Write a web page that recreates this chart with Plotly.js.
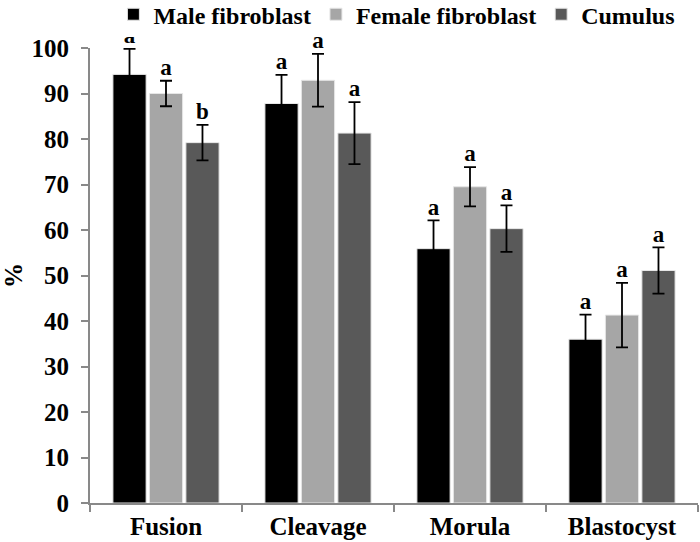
<!DOCTYPE html>
<html>
<head>
<meta charset="utf-8">
<script src="https://cdn.plot.ly/plotly-3.0.1.min.js"></script>
<style>html,body{margin:0;padding:0;background:#fff;}#chart{width:700px;height:542px;}</style>
</head>
<body>
<div id="chart"></div>
<script>
const categories = ["Fusion", "Cleavage", "Morula", "Blastocyst"];
const seriesNames = ["Male fibroblast", "Female fibroblast", "Cumulus"];
const maleValues = [94.2, 87.8, 55.9, 36.0];
const maleErrors = [5.6, 6.3, 6.2, 5.4];
const maleLetters = ["a", "a", "a", "a"];
const femaleValues = [90.0, 92.9, 69.5, 41.3];
const femaleErrors = [2.8, 5.8, 4.3, 7.1];
const femaleLetters = ["a", "a", "a", "a"];
const cumulusValues = [79.2, 81.3, 60.3, 51.1];
const cumulusErrors = [3.9, 6.8, 5.1, 5.1];
const cumulusLetters = ["b", "a", "a", "a"];
const yTicks = [0, 10, 20, 30, 40, 50, 60, 70, 80, 90, 100];

const colors = ["#000000", "#a6a6a6", "#595959"];
const valueSets = [maleValues, femaleValues, cumulusValues];
const errorSets = [maleErrors, femaleErrors, cumulusErrors];
const letterSets = [maleLetters, femaleLetters, cumulusLetters];
const fontFam = "Liberation Serif, Times New Roman, serif";

const traces = [];
for (let i = 0; i < 3; i++) {
  traces.push({
    type: "bar",
    name: seriesNames[i],
    x: categories,
    y: valueSets[i],
    offsetgroup: String(i),
    marker: {color: colors[i], line: {color: "#e6e6e6", width: 1}},
    error_y: {type: "data", array: errorSets[i], visible: true, color: "#000", thickness: 1.8, width: 6},
    hoverinfo: "x+y"
  });
}
for (let i = 0; i < 3; i++) {
  traces.push({
    type: "scatter",
    mode: "text",
    x: categories,
    y: valueSets[i].map((v, k) => v + errorSets[i][k]),
    text: letterSets[i],
    textposition: "top center",
    textfont: {family: fontFam, size: 23, color: "#000", weight: "bold"},
    offsetgroup: String(i),
    showlegend: false,
    cliponaxis: false,
    hoverinfo: "skip"
  });
}

const layout = {
  width: 700, height: 542,
  margin: {l: 90, r: 2, t: 48, b: 39, autoexpand: false},
  paper_bgcolor: "#fff", plot_bgcolor: "#fff",
  font: {family: fontFam, size: 25, color: "#000", weight: "bold"},
  barmode: "group",
  scattermode: "group",
  bargap: 0.28,
  bargroupgap: 0.09,
  scattergap: 0.28,
  showlegend: true,
  legend: {
    orientation: "h", xref: "container", x: 0.162, xanchor: "left",
    yref: "container", y: 0.973, yanchor: "middle",
    font: {family: fontFam, size: 24, color: "#000", weight: "bold"},
    itemwidth: 30, tracegroupgap: 0, traceorder: "normal", itemclick: false
  },
  xaxis: {
    type: "category",
    range: [-0.5, 3.5],
    showline: true, linecolor: "#898989", linewidth: 2,
    ticks: "outside", tickson: "boundaries", ticklen: 7, tickcolor: "#898989", tickwidth: 1.5,
    showgrid: false, zeroline: false,
    tickfont: {family: fontFam, size: 25, color: "#000", weight: "bold"}
  },
  yaxis: {
    range: [0, 100],
    tickvals: yTicks,
    showline: true, linecolor: "#898989", linewidth: 2,
    ticks: "outside", ticklen: 7, tickcolor: "#898989", tickwidth: 1.5,
    ticklabelstandoff: 7,
    showgrid: false, zeroline: false,
    tickfont: {family: fontFam, size: 25, color: "#000", weight: "bold"},
    title: {text: "%", standoff: 16, font: {family: fontFam, size: 25, color: "#000", weight: "bold"}}
  }
};

Plotly.newPlot("chart", traces, layout, {displayModeBar: false});
</script>
</body>
</html>
